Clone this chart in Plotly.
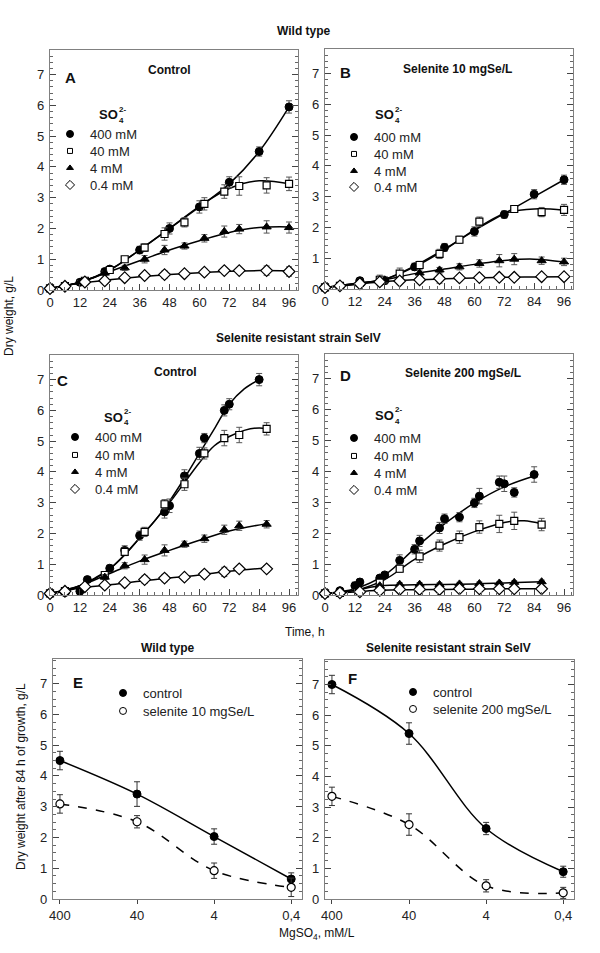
import plotly.graph_objects as go

W, H = 600, 953
FONT = "Arial, Liberation Sans, sans-serif"

def px(x):
    return x / W

def py(y):
    return 1 - y / H

# ---------------- DATA ----------------
series_labels = ["400 mM", "40 mM", "4 mM", "0.4 mM"]
time_ticks = [0, 12, 24, 36, 48, 60, 72, 84, 96]

# Panel A - wild type, control
a400_t = [0, 6, 12, 22, 24, 36, 48, 60, 72, 84, 96]
a400_v = [0.05, 0.12, 0.25, 0.6, 0.68, 1.3, 2.0, 2.7, 3.5, 4.5, 5.95]
a400_e = [0.03, 0.05, 0.07, 0.08, 0.08, 0.12, 0.18, 0.2, 0.18, 0.15, 0.2]
a40_t = [0, 6, 14, 24, 30, 38, 46, 54, 62, 70, 76, 87, 96]
a40_v = [0.05, 0.13, 0.3, 0.65, 1.0, 1.38, 1.82, 2.2, 2.8, 3.2, 3.38, 3.4, 3.45]
a40_e = [0.03, 0.05, 0.07, 0.08, 0.08, 0.12, 0.2, 0.15, 0.2, 0.22, 0.3, 0.25, 0.22]
a4_t = [0, 6, 12, 22, 30, 38, 46, 54, 62, 70, 76, 87, 96]
a4_v = [0.05, 0.12, 0.25, 0.55, 0.72, 1.0, 1.3, 1.43, 1.68, 1.9, 1.98, 2.05, 2.03]
a4_e = [0.03, 0.04, 0.05, 0.06, 0.08, 0.12, 0.15, 0.1, 0.12, 0.18, 0.15, 0.2, 0.18]
a04_t = [0, 6, 14, 22, 30, 38, 46, 54, 62, 70, 76, 87, 96]
a04_v = [0.05, 0.12, 0.26, 0.3, 0.4, 0.47, 0.5, 0.53, 0.58, 0.63, 0.63, 0.63, 0.6]
a04_e = [0.03, 0.04, 0.05, 0.06, 0.1, 0.1, 0.12, 0.08, 0.1, 0.1, 0.08, 0.15, 0.15]
a_fit_t = [0, 12, 24, 36, 48, 60, 72, 84, 96]
a400_fit = [0.05, 0.25, 0.65, 1.3, 2.0, 2.7, 3.45, 4.5, 5.95]
a40_fit = [0.05, 0.25, 0.65, 1.3, 2.0, 2.72, 3.3, 3.55, 3.45]
a4_fit = [0.05, 0.25, 0.6, 0.95, 1.3, 1.6, 1.87, 2.03, 2.05]
a04_fit = [0.05, 0.22, 0.33, 0.43, 0.5, 0.56, 0.61, 0.63, 0.62]

# Panel B - wild type, selenite 10 mgSe/L
b400_t = [0, 6, 14, 24, 36, 48, 60, 72, 84, 96]
b400_v = [0.05, 0.1, 0.27, 0.27, 0.72, 1.35, 1.87, 2.42, 3.08, 3.55]
b400_e = [0.03, 0.05, 0.1, 0.1, 0.12, 0.13, 0.15, 0.12, 0.15, 0.15]
b40_t = [0, 6, 14, 22, 30, 38, 46, 54, 62, 76, 87, 96]
b40_v = [0.05, 0.1, 0.2, 0.3, 0.5, 0.78, 1.14, 1.6, 2.19, 2.6, 2.5, 2.57]
b40_e = [0.03, 0.05, 0.12, 0.15, 0.18, 0.12, 0.15, 0.12, 0.15, 0.1, 0.15, 0.18]
b4_t = [0, 6, 14, 24, 38, 46, 54, 62, 70, 76, 87, 96]
b4_v = [0.05, 0.1, 0.18, 0.3, 0.52, 0.62, 0.72, 0.83, 0.92, 0.97, 0.92, 0.88]
b4_e = [0.03, 0.04, 0.08, 0.1, 0.1, 0.08, 0.1, 0.12, 0.2, 0.18, 0.12, 0.12]
b04_t = [0, 6, 14, 22, 30, 38, 46, 54, 62, 70, 76, 87, 96]
b04_v = [0.05, 0.1, 0.17, 0.23, 0.26, 0.3, 0.34, 0.36, 0.37, 0.38, 0.38, 0.4, 0.4]
b04_e = [0.03, 0.04, 0.06, 0.12, 0.08, 0.1, 0.15, 0.1, 0.1, 0.1, 0.08, 0.1, 0.1]
b_fit_t = [0, 12, 24, 36, 48, 60, 72, 84, 96]
b400_fit = [0.05, 0.18, 0.32, 0.75, 1.3, 1.9, 2.45, 3.0, 3.55]
b40_fit = [0.05, 0.18, 0.32, 0.72, 1.27, 1.92, 2.45, 2.6, 2.56]
b4_fit = [0.05, 0.15, 0.3, 0.5, 0.65, 0.8, 0.93, 0.97, 0.88]
b04_fit = [0.05, 0.15, 0.24, 0.3, 0.33, 0.36, 0.38, 0.39, 0.4]

# Panel C - SelV, control
c400_t = [0, 6, 12, 15, 24, 30, 36, 46, 48, 54, 60, 62, 70, 72, 84]
c400_v = [0.05, 0.08, 0.12, 0.5, 0.87, 1.45, 1.93, 2.7, 2.9, 3.87, 4.6, 5.1, 6.0, 6.2, 7.0]
c400_e = [0.03, 0.04, 0.05, 0.08, 0.1, 0.15, 0.15, 0.2, 0.22, 0.2, 0.2, 0.15, 0.18, 0.18, 0.2]
c40_t = [0, 6, 22, 30, 38, 46, 54, 62, 70, 76, 87]
c40_v = [0.05, 0.13, 0.65, 1.4, 2.05, 2.95, 3.6, 4.6, 5.1, 5.2, 5.4]
c40_e = [0.03, 0.05, 0.08, 0.12, 0.15, 0.15, 0.2, 0.18, 0.25, 0.25, 0.2]
c4_t = [0, 6, 14, 22, 30, 38, 46, 54, 62, 70, 76, 87]
c4_v = [0.05, 0.1, 0.3, 0.58, 0.95, 1.15, 1.45, 1.65, 1.83, 2.12, 2.25, 2.3]
c4_e = [0.03, 0.04, 0.06, 0.08, 0.1, 0.15, 0.18, 0.1, 0.12, 0.15, 0.15, 0.12]
c04_t = [0, 6, 14, 22, 30, 38, 46, 54, 62, 70, 76, 87]
c04_v = [0.05, 0.12, 0.27, 0.32, 0.4, 0.5, 0.55, 0.58, 0.68, 0.75, 0.85, 0.85]
c04_e = [0.03, 0.04, 0.06, 0.06, 0.1, 0.12, 0.12, 0.08, 0.1, 0.15, 0.1, 0.1]
c400_fit_t = [0, 6, 12, 18, 24, 30, 36, 42, 48, 54, 60, 66, 72, 78, 84]
c400_fit = [0.05, 0.12, 0.3, 0.55, 0.85, 1.3, 1.85, 2.4, 3.05, 3.8, 4.6, 5.4, 6.2, 6.7, 7.0]
c40_fit_t = [0, 12, 24, 36, 48, 54, 60, 66, 72, 78, 84, 87]
c40_fit = [0.05, 0.3, 0.85, 1.85, 3.0, 3.65, 4.3, 4.85, 5.15, 5.35, 5.43, 5.4]
c_fit_t = [0, 12, 24, 36, 48, 60, 72, 87]
c4_fit = [0.05, 0.3, 0.7, 1.1, 1.45, 1.78, 2.08, 2.32]
c04_fit = [0.05, 0.22, 0.33, 0.45, 0.55, 0.65, 0.77, 0.88]

# Panel D - SelV, selenite 200 mgSe/L
d400_t = [0, 6, 12, 14, 22, 24, 30, 36, 38, 46, 48, 54, 60, 62, 70, 72, 76, 84]
d400_v = [0.05, 0.14, 0.3, 0.42, 0.55, 0.65, 1.12, 1.48, 1.75, 2.17, 2.47, 2.52, 2.98, 3.2, 3.65, 3.6, 3.32, 3.9]
d400_e = [0.03, 0.06, 0.12, 0.1, 0.08, 0.08, 0.18, 0.15, 0.18, 0.18, 0.15, 0.15, 0.15, 0.25, 0.2, 0.25, 0.15, 0.25]
d40_t = [0, 6, 22, 30, 38, 46, 54, 62, 70, 76, 87]
d40_v = [0.05, 0.07, 0.4, 0.85, 1.25, 1.6, 1.87, 2.2, 2.3, 2.4, 2.28]
d40_e = [0.03, 0.04, 0.1, 0.12, 0.2, 0.18, 0.2, 0.2, 0.28, 0.28, 0.2]
d4_t = [0, 6, 14, 22, 30, 38, 46, 54, 62, 70, 76, 87]
d4_v = [0.05, 0.08, 0.15, 0.3, 0.35, 0.35, 0.34, 0.36, 0.37, 0.39, 0.41, 0.43]
d4_e = [0.02, 0.03, 0.04, 0.05, 0.05, 0.05, 0.05, 0.05, 0.05, 0.05, 0.05, 0.05]
d04_t = [0, 6, 14, 22, 30, 38, 46, 54, 62, 70, 76, 87]
d04_v = [0.05, 0.07, 0.1, 0.15, 0.18, 0.18, 0.18, 0.2, 0.2, 0.2, 0.2, 0.2]
d04_e = [0.02, 0.03, 0.04, 0.05, 0.05, 0.05, 0.05, 0.05, 0.05, 0.05, 0.05, 0.05]
d400_fit_t = [0, 12, 24, 36, 48, 60, 72, 84]
d400_fit = [0.05, 0.2, 0.65, 1.5, 2.3, 2.98, 3.5, 3.85]
d40_fit_t = [0, 12, 24, 36, 48, 60, 72, 80, 87]
d40_fit = [0.05, 0.15, 0.5, 1.15, 1.65, 2.05, 2.35, 2.4, 2.3]
d_fit_t = [0, 12, 22, 36, 48, 60, 72, 87]
d4_fit = [0.05, 0.15, 0.3, 0.33, 0.34, 0.36, 0.39, 0.43]
d04_fit = [0.05, 0.1, 0.15, 0.17, 0.18, 0.19, 0.2, 0.2]

# Panels E, F - dry weight after 84 h vs MgSO4
mg_categories = ["400", "40", "4", "0,4"]
e_control = [4.5, 3.41, 2.03, 0.65]
e_control_err = [0.3, 0.4, 0.25, 0.2]
e_selenite = [3.09, 2.51, 0.92, 0.38]
e_selenite_err = [0.3, 0.2, 0.25, 0.3]
f_control = [7.0, 5.4, 2.3, 0.89]
f_control_err = [0.3, 0.35, 0.2, 0.18]
f_selenite = [3.35, 2.43, 0.43, 0.2]
f_selenite_err = [0.3, 0.35, 0.2, 0.18]

# ---------------- STYLE ----------------
marker_styles = [
    dict(symbol="circle", size=8, color="black", line=dict(color="black", width=1)),
    dict(symbol="square", size=7, color="white", line=dict(color="black", width=1.2)),
    dict(symbol="triangle-up", size=8, color="black", line=dict(color="black", width=1)),
    dict(symbol="diamond", size=9, color="white", line=dict(color="black", width=1.2)),
]
legend_marker_styles = [
    dict(symbol="circle", size=7, color="black", line=dict(color="black", width=1)),
    dict(symbol="square", size=5, color="white", line=dict(color="black", width=1)),
    dict(symbol="triangle-up", size=6, color="black", line=dict(color="black", width=1)),
    dict(symbol="diamond", size=7, color="white", line=dict(color="black", width=1)),
]
ERR = "#555555"
FRAME = "#808080"

fig = go.Figure()

# legend rows: (marker x, row y list) per panel
growth_legend_pos = [(75, [134, 151, 168, 185]), (359, [137, 154, 171, 187]),
                     (80, [437, 455, 472, 489]), (359, [438, 456, 473, 490])]

panels_growth = [
    ("x", "y",
     [(a400_t, a400_v, a400_e), (a40_t, a40_v, a40_e), (a4_t, a4_v, a4_e), (a04_t, a04_v, a04_e)],
     [(a_fit_t, a400_fit), (a_fit_t, a40_fit), (a_fit_t, a4_fit), (a_fit_t, a04_fit)]),
    ("x2", "y2",
     [(b400_t, b400_v, b400_e), (b40_t, b40_v, b40_e), (b4_t, b4_v, b4_e), (b04_t, b04_v, b04_e)],
     [(b_fit_t, b400_fit), (b_fit_t, b40_fit), (b_fit_t, b4_fit), (b_fit_t, b04_fit)]),
    ("x3", "y3",
     [(c400_t, c400_v, c400_e), (c40_t, c40_v, c40_e), (c4_t, c4_v, c4_e), (c04_t, c04_v, c04_e)],
     [(c400_fit_t, c400_fit), (c40_fit_t, c40_fit), (c_fit_t, c4_fit), (c_fit_t, c04_fit)]),
    ("x4", "y4",
     [(d400_t, d400_v, d400_e), (d40_t, d40_v, d40_e), (d4_t, d4_v, d4_e), (d04_t, d04_v, d04_e)],
     [(d400_fit_t, d400_fit), (d40_fit_t, d40_fit), (d_fit_t, d4_fit), (d_fit_t, d04_fit)]),
]

legends = {}
legend_counter = [0]

def new_legend(marker_x, row_y):
    legend_counter[0] += 1
    n = legend_counter[0]
    key = "legend" if n == 1 else "legend%d" % n
    legends[key] = dict(x=px(marker_x - 25), y=py(row_y), xanchor="left", yanchor="middle",
                        bgcolor="rgba(0,0,0,0)", borderwidth=0,
                        font=dict(family=FONT, size=13, color="#222"),
                        itemclick=False, itemdoubleclick=False)
    return key

for (xa, ya, series, fits), (mx, rows) in zip(panels_growth, growth_legend_pos):
    for ft, fv in fits:
        fig.add_trace(go.Scatter(x=ft, y=fv, mode="lines", xaxis=xa, yaxis=ya,
                                 line=dict(color="black", width=1.5, shape="spline", smoothing=1.0),
                                 showlegend=False, hoverinfo="skip"))
    for i, (t, v, e) in enumerate(series):
        fig.add_trace(go.Scatter(x=t, y=v, mode="markers", xaxis=xa, yaxis=ya,
                                 marker=marker_styles[i], name=series_labels[i], showlegend=False,
                                 error_y=dict(type="data", array=e, color=ERR, thickness=1, width=3),
                                 cliponaxis=False))
    for i in range(4):
        lg = new_legend(mx, rows[i])
        fig.add_trace(go.Scatter(x=[None], y=[None], mode="markers", xaxis=xa, yaxis=ya,
                                 marker=legend_marker_styles[i], name=series_labels[i], legend=lg,
                                 showlegend=True))

bottom_panels = [
    ("x5", "y5", e_control, e_control_err, e_selenite, e_selenite_err, "selenite 10 mgSe/L", 128, [693, 711]),
    ("x6", "y6", f_control, f_control_err, f_selenite, f_selenite_err, "selenite 200 mgSe/L", 418, [692, 709]),
]
for xa, ya, ctl, ctl_e, sel, sel_e, sel_name, mx, rows in bottom_panels:
    fig.add_trace(go.Scatter(x=mg_categories, y=ctl, mode="lines", xaxis=xa, yaxis=ya,
                             line=dict(color="black", width=1.5, shape="spline", smoothing=1.0),
                             showlegend=False, hoverinfo="skip"))
    fig.add_trace(go.Scatter(x=mg_categories, y=sel, mode="lines", xaxis=xa, yaxis=ya,
                             line=dict(color="black", width=1.5, shape="spline", smoothing=1.0, dash="dash"),
                             showlegend=False, hoverinfo="skip"))
    fig.add_trace(go.Scatter(x=mg_categories, y=ctl, mode="markers", xaxis=xa, yaxis=ya,
                             name="control", showlegend=False,
                             marker=dict(symbol="circle", size=8, color="black", line=dict(color="black", width=1)),
                             error_y=dict(type="data", array=ctl_e, color="#333333", thickness=1, width=3),
                             cliponaxis=False))
    fig.add_trace(go.Scatter(x=mg_categories, y=sel, mode="markers", xaxis=xa, yaxis=ya,
                             name=sel_name, showlegend=False,
                             marker=dict(symbol="circle", size=8, color="white", line=dict(color="black", width=1.2)),
                             error_y=dict(type="data", array=sel_e, color="#333333", thickness=1, width=3),
                             cliponaxis=False))
    lg = new_legend(mx, rows[0])
    fig.add_trace(go.Scatter(x=[None], y=[None], mode="markers", xaxis=xa, yaxis=ya, name="control",
                             legend=lg, showlegend=True,
                             marker=dict(symbol="circle", size=7, color="black", line=dict(color="black", width=1))))
    lg = new_legend(mx, rows[1])
    fig.add_trace(go.Scatter(x=[None], y=[None], mode="markers", xaxis=xa, yaxis=ya, name=sel_name,
                             legend=lg, showlegend=True,
                             marker=dict(symbol="circle", size=7, color="white", line=dict(color="black", width=1))))

# ---------------- AXES ----------------
tickfont = dict(family=FONT, size=13, color="#222222")

def yaxis_cfg(anchor, top, bottom, dtick_minor):
    return dict(domain=[py(bottom), py(top)], anchor=anchor, range=[0, 7.8],
                tickvals=[0, 1, 2, 3, 4, 5, 6, 7], ticks="inside", ticklen=6, tickcolor="#444",
                minor=dict(dtick=dtick_minor, tick0=0, ticks="inside", ticklen=3, tickcolor="#666"),
                showline=True, linecolor=FRAME, linewidth=1.2, mirror="ticks",
                showgrid=False, zeroline=False, tickfont=tickfont, ticklabelstandoff=2,
                automargin=False)

def xaxis_time(anchor, left, right):
    return dict(domain=[px(left), px(right)], anchor=anchor, range=[0, 99.6],
                tickvals=time_ticks, ticks="inside", ticklen=6, tickcolor="#444",
                minor=dict(dtick=3, tick0=0, ticks="inside", ticklen=3, tickcolor="#666"),
                showline=True, linecolor=FRAME, linewidth=1.2, mirror=True,
                showgrid=False, zeroline=False, tickfont=tickfont, automargin=False)

def xaxis_cat(anchor, left, right):
    return dict(domain=[px(left), px(right)], anchor=anchor, type="category",
                categoryorder="array", categoryarray=mg_categories, range=[-0.09, 3.14],
                ticks="outside", ticklen=4, tickcolor="#444",
                showline=True, linecolor=FRAME, linewidth=1.2, mirror=True,
                showgrid=False, zeroline=False, tickfont=tickfont, automargin=False)

layout_axes = dict(
    xaxis=xaxis_time("y", 50, 298), yaxis=yaxis_cfg("x", 50, 290, 0.2),
    xaxis2=xaxis_time("y2", 325, 573), yaxis2=yaxis_cfg("x2", 49, 289, 0.2),
    xaxis3=xaxis_time("y3", 50, 298), yaxis3=yaxis_cfg("x3", 355, 595, 0.2),
    xaxis4=xaxis_time("y4", 325, 573), yaxis4=yaxis_cfg("x4", 354, 595, 0.2),
    xaxis5=xaxis_cat("y5", 53, 302), yaxis5=yaxis_cfg("x5", 659, 899, 0.25),
    xaxis6=xaxis_cat("y6", 325, 574), yaxis6=yaxis_cfg("x6", 660, 899, 0.25),
)

# ---------------- ANNOTATIONS ----------------
ann = []

def text(x, y, s, size=12, bold=False, angle=0, xanchor="center"):
    ann.append(dict(x=px(x), y=py(y), xref="paper", yref="paper", text=("<b>%s</b>" % s) if bold else s,
                    showarrow=False, xanchor=xanchor, yanchor="middle", textangle=angle,
                    font=dict(family=FONT, size=size, color="#111")))

text(304, 31, "Wild type", 12, True)
text(298, 338, "Selenite resistant strain SelV", 12, True)
text(168, 648, "Wild type", 12, True)
text(448, 648, "Selenite resistant strain SelV", 12, True)
text(305, 632, "Time, h", 12)
text(9, 316, "Dry weight, g/L", 12, angle=-90)
text(21, 777, "Dry weight after 84 h of growth, g/L", 12, angle=-90)
text(317, 934, "MgSO<sub>4</sub>, mM/L", 12)

for letter, lx, ly in [("A", 70, 77), ("B", 345, 73), ("C", 62, 380), ("D", 345, 375), ("E", 78, 682), ("F", 352, 678)]:
    text(lx, ly, letter, 15, True)

text(169, 70, "Control", 12, True)
text(457, 69, "Selenite 10 mgSe/L", 12, True)
text(175, 372, "Control", 12, True)
text(463, 373, "Selenite 200 mgSe/L", 12, True)

# SO4 2- legend headers (stacked sub/superscript)
for sx, sy in [(97, 115), (373, 115), (102, 417), (373, 415)]:
    text(sx, sy, "SO", 13, True, xanchor="left")
    text(sx + 20, sy - 5, "2-", 8, True, xanchor="left")
    text(sx + 20, sy + 6, "4", 8, True, xanchor="left")

fig.update_layout(
    width=W, height=H, margin=dict(l=0, r=0, t=0, b=0, pad=0, autoexpand=False),
    paper_bgcolor="white", plot_bgcolor="white",
    font=dict(family=FONT, size=12, color="#111"),
    annotations=ann, **layout_axes, **legends,
)

fig.write_html("out.html", config={"displayModeBar": False, "staticPlot": True},
               post_script="document.body.style.margin='0px';document.body.style.overflow='hidden';")
